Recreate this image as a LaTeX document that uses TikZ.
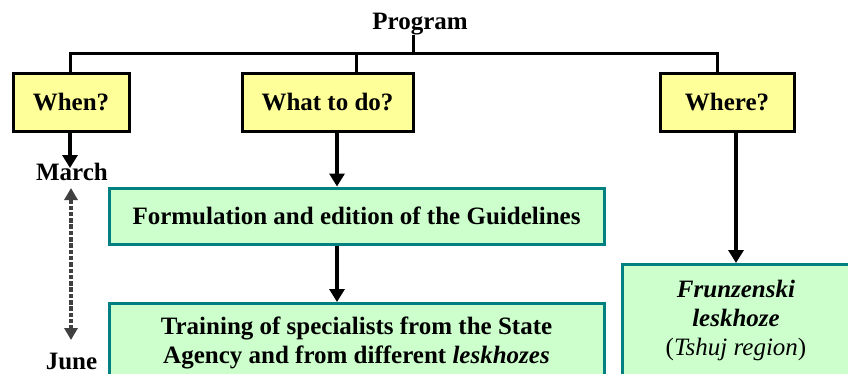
\documentclass[tikz,border=0pt]{standalone}
\usepackage{fontspec}
\setmainfont{Liberation Serif}
\usetikzlibrary{arrows.meta}
\definecolor{ybox}{HTML}{FFFF99}
\definecolor{gbox}{HTML}{CCFFCC}
\definecolor{teal}{HTML}{008080}
\definecolor{dgray}{HTML}{404040}
\begin{document}
\begin{tikzpicture}[x=1pt,y=-1pt,
  txt/.style={font=\fontsize{25}{29}\selectfont\bfseries, inner sep=0pt, align=center},
  qbox/.style={draw=black, fill=ybox, line width=3pt, inner sep=0pt, font=\fontsize{25}{29}\selectfont\bfseries},
  gboxs/.style={draw=teal, fill=gbox, line width=3pt, inner sep=0pt},
  conn/.style={line width=3pt},
  arr/.style={line width=3.6pt, -{Triangle[width=15pt,length=13pt]}},
  darr/.style={line width=3.4pt, draw=dgray, dash pattern=on 4.5pt off 1.8pt, {Triangle[width=13pt,length=12pt]}-{Triangle[width=13pt,length=12pt]}}
]
\useasboundingbox (0,0) rectangle (848,373);
\clip (0,0) rectangle (848,373);
% top
\node[txt, anchor=base] (prog) at (420,29) {Program};
\coordinate (busmid) at (413,53);
\coordinate (busL) at (70,53);
\coordinate (busR) at (717,53);
\node[qbox, minimum width=116pt, minimum height=58pt] (when) at (71,102) {When?};
\node[qbox, minimum width=171pt, minimum height=58pt] (what) at (327.5,102) {What to do?};
\node[qbox, minimum width=134pt, minimum height=58pt] (where) at (727,102) {Where?};
\draw[conn] (413,35) -- (busmid);
\draw[conn] (when.north -| busL) -- (busL) -- (busR) -- (where.north -| busR);
\draw[conn] (356,53) -- (what.north -| 356,0);
% when column
\node[txt, anchor=base] (march) at (72,180) {March};
\node[txt, anchor=base] (june) at (71.5,369) {June};
\draw[arr] (when.south -| 70,0) -- (70,168);
\coordinate (dtop) at (71,188);
\coordinate (dbot) at (71,340);
\draw[darr] (dtop) -- (dbot);
% what column
\node[gboxs, minimum width=495pt, minimum height=56pt] (form) at (356.5,216) {};
\node[txt, anchor=base] (formt) at (356.5,224) {Formulation and edition of the Guidelines};
\node[gboxs, minimum width=495pt, minimum height=120pt, anchor=north] (train) at (356.5,302) {};
\node[txt, anchor=base] (traint1) at (356.5,334) {Training of specialists from the State};
\node[txt, anchor=base] (traint2) at (356.5,363) {Agency and from different \textit{leskhozes}};
\draw[arr] (what.south -| 337,0) -- (form.north -| 337,0);
\draw[arr] (form.south -| 337,0) -- (train.north -| 337,0);
% where column
\node[gboxs, minimum width=260pt, minimum height=150pt, anchor=north west] (frun) at (621,263) {};
\node[txt, anchor=base] (frun1) at (736,297) {\itshape Frunzenski};
\node[txt, anchor=base] (frun2) at (736,326) {\itshape leskhoze};
\node[txt, anchor=base, font=\fontsize{25}{29}\selectfont] (frun3) at (736,355) {(\textit{Tshuj region})};
\draw[arr] (where.south -| 736,0) -- (frun.north -| 736,0);
\end{tikzpicture}
\end{document}
